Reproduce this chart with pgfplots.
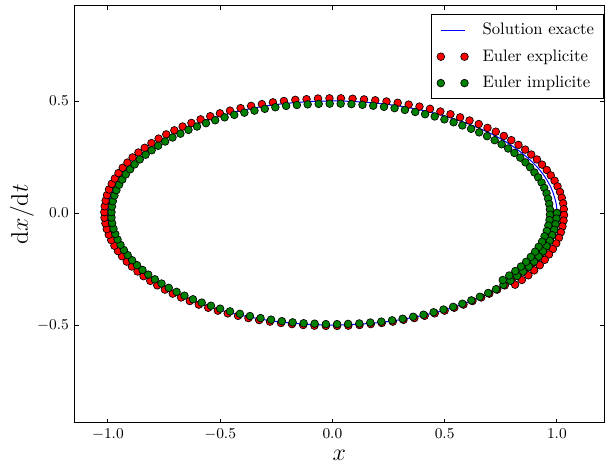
\documentclass[border=0pt]{standalone}
\usepackage{pgfplots}
\usepackage{pgfplotstable}
\pgfplotsset{compat=1.18}
\definecolor{mplgreen}{rgb}{0,0.5,0}
\pgfplotstableread{
xx yx xe ye xi yi
1.000 0.000 1.000 0.000 1.000 0.000
0.999 -0.025 0.999 -0.025 0.998 -0.025
0.995 -0.050 0.996 -0.050 0.994 -0.050
0.989 -0.075 0.990 -0.075 0.988 -0.075
0.980 -0.099 0.981 -0.099 0.979 -0.099
0.969 -0.124 0.970 -0.124 0.968 -0.124
0.955 -0.148 0.957 -0.148 0.954 -0.148
0.939 -0.171 0.941 -0.172 0.938 -0.171
0.921 -0.195 0.923 -0.195 0.919 -0.194
0.900 -0.217 0.902 -0.218 0.898 -0.217
0.878 -0.240 0.880 -0.240 0.875 -0.239
0.853 -0.261 0.855 -0.262 0.850 -0.261
0.825 -0.282 0.828 -0.283 0.823 -0.281
0.796 -0.303 0.799 -0.304 0.793 -0.302
0.765 -0.322 0.768 -0.323 0.762 -0.321
0.732 -0.341 0.734 -0.342 0.729 -0.340
0.697 -0.359 0.699 -0.360 0.694 -0.357
0.660 -0.376 0.663 -0.377 0.657 -0.374
0.622 -0.392 0.624 -0.393 0.619 -0.390
0.582 -0.407 0.584 -0.409 0.579 -0.405
0.540 -0.421 0.543 -0.423 0.538 -0.419
0.498 -0.434 0.500 -0.436 0.495 -0.431
0.454 -0.446 0.456 -0.448 0.451 -0.443
0.408 -0.456 0.411 -0.459 0.406 -0.454
0.362 -0.466 0.365 -0.469 0.360 -0.463
0.315 -0.474 0.317 -0.477 0.313 -0.472
0.268 -0.482 0.269 -0.485 0.266 -0.479
0.219 -0.488 0.220 -0.491 0.218 -0.485
0.170 -0.493 0.171 -0.496 0.169 -0.489
0.120 -0.496 0.121 -0.500 0.120 -0.493
0.071 -0.499 0.071 -0.503 0.070 -0.495
0.021 -0.500 0.021 -0.504 0.021 -0.496
-0.029 -0.500 -0.029 -0.504 -0.029 -0.496
-0.079 -0.498 -0.080 -0.503 -0.079 -0.494
-0.129 -0.496 -0.130 -0.500 -0.128 -0.492
-0.178 -0.492 -0.180 -0.496 -0.177 -0.488
-0.227 -0.487 -0.229 -0.491 -0.225 -0.483
-0.276 -0.481 -0.278 -0.485 -0.273 -0.476
-0.323 -0.473 -0.326 -0.478 -0.320 -0.469
-0.370 -0.464 -0.374 -0.469 -0.367 -0.460
-0.416 -0.455 -0.420 -0.459 -0.412 -0.450
-0.461 -0.444 -0.466 -0.448 -0.456 -0.439
-0.505 -0.432 -0.510 -0.436 -0.500 -0.427
-0.547 -0.418 -0.553 -0.423 -0.541 -0.414
-0.589 -0.404 -0.595 -0.409 -0.582 -0.400
-0.628 -0.389 -0.635 -0.393 -0.621 -0.385
-0.666 -0.373 -0.674 -0.377 -0.659 -0.369
-0.703 -0.356 -0.711 -0.360 -0.694 -0.352
-0.737 -0.338 -0.746 -0.342 -0.729 -0.334
-0.770 -0.319 -0.780 -0.323 -0.761 -0.315
-0.801 -0.299 -0.811 -0.303 -0.791 -0.296
-0.830 -0.279 -0.841 -0.282 -0.820 -0.275
-0.857 -0.258 -0.868 -0.261 -0.846 -0.254
-0.882 -0.236 -0.893 -0.239 -0.870 -0.233
-0.904 -0.214 -0.916 -0.217 -0.892 -0.211
-0.924 -0.191 -0.937 -0.193 -0.912 -0.188
-0.942 -0.168 -0.955 -0.170 -0.929 -0.165
-0.958 -0.144 -0.971 -0.146 -0.944 -0.142
-0.971 -0.120 -0.985 -0.121 -0.957 -0.118
-0.982 -0.095 -0.996 -0.097 -0.967 -0.094
-0.990 -0.071 -1.005 -0.072 -0.975 -0.070
-0.996 -0.046 -1.011 -0.046 -0.981 -0.045
-0.999 -0.021 -1.015 -0.021 -0.984 -0.020
-1.000 0.004 -1.016 0.004 -0.984 0.004
-0.998 0.029 -1.014 0.030 -0.982 0.029
-0.994 0.054 -1.010 0.055 -0.978 0.053
-0.988 0.079 -1.004 0.080 -0.971 0.078
-0.978 0.103 -0.995 0.105 -0.962 0.102
-0.967 0.128 -0.983 0.130 -0.950 0.126
-0.953 0.152 -0.969 0.154 -0.936 0.149
-0.936 0.175 -0.953 0.178 -0.920 0.172
-0.918 0.199 -0.934 0.202 -0.901 0.195
-0.897 0.221 -0.913 0.225 -0.881 0.217
-0.874 0.243 -0.890 0.248 -0.858 0.239
-0.848 0.265 -0.864 0.270 -0.832 0.260
-0.821 0.286 -0.836 0.291 -0.805 0.280
-0.791 0.306 -0.806 0.312 -0.776 0.300
-0.759 0.325 -0.774 0.332 -0.745 0.319
-0.726 0.344 -0.740 0.351 -0.712 0.337
-0.691 0.362 -0.704 0.369 -0.677 0.354
-0.654 0.378 -0.667 0.386 -0.641 0.371
-0.615 0.394 -0.628 0.402 -0.603 0.386
-0.575 0.409 -0.587 0.418 -0.563 0.401
-0.533 0.423 -0.544 0.432 -0.522 0.414
-0.490 0.436 -0.501 0.445 -0.480 0.427
-0.446 0.448 -0.456 0.457 -0.437 0.438
-0.401 0.458 -0.409 0.468 -0.392 0.448
-0.355 0.468 -0.362 0.478 -0.347 0.457
-0.307 0.476 -0.314 0.486 -0.301 0.465
-0.259 0.483 -0.265 0.494 -0.254 0.472
-0.211 0.489 -0.216 0.500 -0.206 0.478
-0.162 0.493 -0.165 0.505 -0.158 0.482
-0.112 0.497 -0.115 0.508 -0.110 0.485
-0.062 0.499 -0.064 0.511 -0.061 0.487
-0.012 0.500 -0.013 0.512 -0.012 0.488
0.038 0.500 0.038 0.512 0.037 0.488
0.088 0.498 0.090 0.510 0.085 0.486
0.137 0.495 0.141 0.507 0.134 0.483
0.187 0.491 0.191 0.503 0.182 0.479
0.235 0.486 0.241 0.498 0.230 0.474
0.284 0.480 0.291 0.492 0.277 0.468
0.331 0.472 0.340 0.484 0.323 0.460
0.378 0.463 0.388 0.475 0.369 0.451
0.424 0.453 0.435 0.465 0.413 0.441
0.469 0.442 0.481 0.453 0.456 0.431
0.512 0.430 0.526 0.441 0.499 0.418
0.554 0.416 0.569 0.427 0.540 0.405
0.595 0.402 0.611 0.413 0.579 0.391
0.635 0.386 0.652 0.397 0.618 0.376
0.673 0.370 0.691 0.380 0.654 0.360
0.709 0.353 0.728 0.363 0.689 0.343
0.743 0.335 0.764 0.344 0.723 0.325
0.776 0.316 0.797 0.325 0.754 0.307
0.806 0.296 0.829 0.304 0.783 0.288
0.835 0.275 0.859 0.283 0.811 0.268
0.861 0.254 0.886 0.261 0.837 0.247
0.886 0.232 0.911 0.239 0.860 0.226
0.908 0.210 0.934 0.216 0.881 0.204
0.928 0.187 0.955 0.192 0.900 0.181
0.945 0.164 0.973 0.168 0.917 0.159
0.960 0.140 0.990 0.144 0.932 0.136
0.973 0.116 1.003 0.119 0.944 0.112
0.983 0.091 1.014 0.094 0.954 0.088
0.991 0.066 1.022 0.068 0.961 0.064
0.997 0.042 1.028 0.043 0.966 0.040
1.000 0.017 1.031 0.017 0.969 0.016
1.000 -0.008 1.032 -0.009 0.969 -0.008
0.998 -0.033 1.030 -0.034 0.967 -0.032
0.993 -0.058 1.025 -0.060 0.962 -0.056
0.986 -0.083 1.018 -0.086 0.955 -0.080
0.977 -0.108 1.009 -0.111 0.945 -0.104
0.965 -0.132 0.997 -0.136 0.934 -0.128
0.950 -0.156 0.982 -0.161 0.919 -0.151
0.933 -0.179 0.965 -0.185 0.903 -0.173
0.914 -0.202 0.946 -0.209 0.884 -0.196
0.893 -0.225 0.924 -0.233 0.863 -0.218
0.869 -0.247 0.899 -0.256 0.840 -0.239
0.844 -0.268 0.873 -0.278 0.815 -0.259
0.816 -0.289 0.844 -0.299 0.788 -0.279
0.786 -0.309 0.814 -0.320 0.759 -0.299
}\data
\begin{document}
\begin{tikzpicture}
\begin{axis}[
  name=main,
  scale only axis,
  width=317.6pt, height=250pt,
  xmin=-1.148, xmax=1.21, ymin=-0.936, ymax=0.924,
  xtick={-1,-0.5,0,0.5,1}, ytick={-0.5,0,0.5},
  minor tick num=0,
  tick align=inside,
  major tick length=2.5pt,
  tick style={line width=0.5pt, black},
  axis line style={line width=0.6pt},
  x tick label style={/pgf/number format/.cd, fixed, fixed zerofill, precision=1, /tikz/.cd},
  y tick label style={/pgf/number format/.cd, fixed, fixed zerofill, precision=1, /tikz/.cd},
  tick label style={font=\small},
  xlabel={$x$}, ylabel={$\mathrm{d}x/\mathrm{d}t$},
  label style={font=\Large},
  xlabel style={at={(axis description cs:0.5,-0.0776)}, anchor=center},
  ylabel style={at={(axis description cs:-0.0995,0.5)}, anchor=center},
  legend style={at={(0.9994,0.98)}, anchor=north east, draw=black, line width=0.5pt,
    font=\fontsize{10}{12}\selectfont, cells={anchor=west}, row sep=3.4pt, column sep=6.5pt,
    inner xsep=3.5pt, inner ysep=3pt},
]
\addplot[blue, line width=0.6pt, legend image code/.code={\draw[blue, line width=0.6pt] (0cm,0cm) -- (0.5cm,0cm);}]
  table[x=xx, y=yx] {\data};
\addlegendentry{Solution exacte}
\addplot[only marks, mark=*, mark size=2.3pt, mark options={draw=black, fill=red, line width=0.4pt},
  legend image code/.code={\draw plot coordinates {(0cm,0cm) (0.5cm,0cm)};}]
  table[x=xe, y=ye] {\data};
\addlegendentry{Euler explicite}
\addplot[only marks, mark=*, mark size=2.3pt, mark options={draw=black, fill=mplgreen, line width=0.4pt},
  legend image code/.code={\draw plot coordinates {(0cm,0cm) (0.5cm,0cm)};}]
  table[x=xi, y=yi] {\data};
\addlegendentry{Euler implicite}
\end{axis}
\pgfresetboundingbox
\useasboundingbox ([xshift=-44.8pt,yshift=-26pt]main.south west) rectangle ([xshift=1.8pt,yshift=3.6pt]main.north east);
\end{tikzpicture}
\end{document}
